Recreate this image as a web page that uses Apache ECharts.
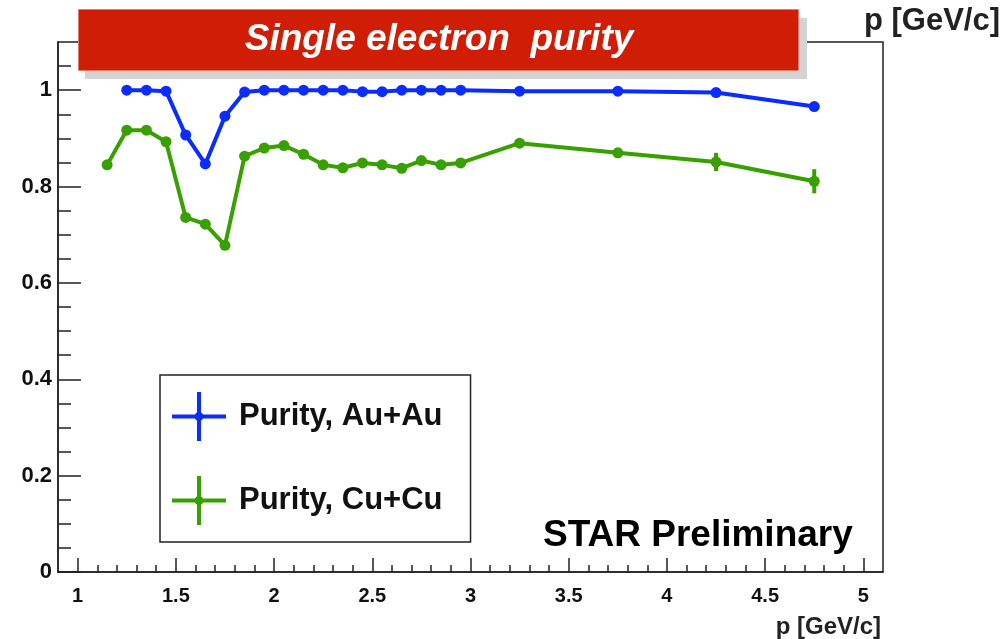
<!DOCTYPE html>
<html>
<head>
<meta charset="utf-8">
<script src="https://cdn.jsdelivr.net/npm/echarts@6/dist/echarts.min.js"></script>
<style>
html,body{margin:0;padding:0;background:#fff;}
#chart{width:1006px;height:639px;}
</style>
</head>
<body>
<div id="chart"></div>
<script>
// ---- data ----
const xAu = [1.25,1.35,1.45,1.55,1.65,1.75,1.85,1.95,2.05,2.15,2.25,2.35,2.45,2.55,2.65,2.75,2.85,2.95,3.25,3.75,4.25,4.75];
const yAu = [1.0,1.0,0.998,0.907,0.847,0.946,0.996,1.0,1.0,1.0,1.0,1.0,0.997,0.997,1.0,1.0,1.0,1.0,0.998,0.998,0.995,0.966];
const eAu = [0.003,0.003,0.003,0.004,0.005,0.004,0.003,0.003,0.003,0.003,0.003,0.003,0.003,0.003,0.003,0.003,0.003,0.003,0.003,0.003,0.004,0.006];

const xCu = [1.15,1.25,1.35,1.45,1.55,1.65,1.75,1.85,1.95,2.05,2.15,2.25,2.35,2.45,2.55,2.65,2.75,2.85,2.95,3.25,3.75,4.25,4.75];
const yCu = [0.845,0.917,0.917,0.893,0.736,0.722,0.678,0.863,0.880,0.885,0.867,0.845,0.839,0.849,0.845,0.838,0.854,0.845,0.849,0.890,0.870,0.851,0.811];
const eCu = [0.006,0.005,0.005,0.005,0.006,0.006,0.007,0.005,0.005,0.005,0.005,0.005,0.005,0.005,0.005,0.005,0.005,0.005,0.005,0.006,0.008,0.019,0.025];

const seriesNames = ['Purity, Au+Au', 'Purity, Cu+Cu'];
const xMajorTicks = [1,1.5,2,2.5,3,3.5,4,4.5,5];
const yMajorTicks = [0,0.2,0.4,0.6,0.8,1];
const xRange = [0.9, 5.1];
const yRange = [0, 1.1];

// minor tick positions (between majors)
const xMinorTicks = [];
for (let i = 11; i <= 49; i++) { if (i % 5 !== 0) xMinorTicks.push(i / 10); }
const yMinorTicks = [];
for (let i = 1; i <= 21; i++) { if (i % 4 !== 0) yMinorTicks.push(i * 0.05); }

const BLUE = '#0a2cff';
const GREEN = '#38a000';
const FONT = '"Liberation Sans", Arial, Helvetica, sans-serif';

function pts(xs, ys) { return xs.map((x, i) => [x, ys[i]]); }
function errs(xs, ys, es) { return xs.map((x, i) => [x, ys[i] - es[i], ys[i] + es[i]]); }

function errRender(color) {
  return function (params, api) {
    const x = api.value(0);
    const lo = api.coord([x, api.value(1)]);
    const hi = api.coord([x, api.value(2)]);
    return {
      type: 'line',
      shape: { x1: lo[0], y1: lo[1], x2: hi[0], y2: hi[1] },
      style: { stroke: color, lineWidth: 4 }
    };
  };
}

const crossIcon = 'path://M0 22.5H54V26.5H0Z M25 0H29V49H25Z M22.5 24.5a4.5 4.5 0 1 1 9 0a4.5 4.5 0 1 1 -9 0Z';

const chart = echarts.init(document.getElementById('chart'), null, { renderer: 'canvas' });

const axisLineStyle = { color: '#222', width: 1.5 };

const option = {
  animation: false,
  backgroundColor: '#fff',
  grid: { left: 58, right: 123, top: 42, bottom: 65, show: true, borderColor: '#222', borderWidth: 1.5, backgroundColor: 'transparent' },
  xAxis: [
    {
      type: 'value', min: xRange[0], max: xRange[1], position: 'bottom',
      axisLine: { show: true, onZero: false, lineStyle: axisLineStyle },
      axisTick: { show: true, inside: true, length: 14, customValues: xMajorTicks, lineStyle: { color: '#222', width: 1.5 } },
      axisLabel: { show: true, customValues: xMajorTicks, margin: 14, color: '#111', fontFamily: FONT, fontWeight: 'bold', fontSize: 20,
        formatter: v => String(v) },
      splitLine: { show: false },
      name: 'p [GeV/c]', nameLocation: 'end', nameGap: -2,
      nameTextStyle: { color: '#222', fontFamily: FONT, fontWeight: 'bold', fontSize: 24, align: 'right', verticalAlign: 'top', padding: [43, 0, 0, 0] }
    },
    {
      type: 'value', min: xRange[0], max: xRange[1], position: 'bottom',
      axisLine: { show: false, onZero: false },
      axisTick: { show: true, inside: true, length: 7, customValues: xMinorTicks, lineStyle: { color: '#222', width: 1.5 } },
      axisLabel: { show: false },
      splitLine: { show: false }
    }
  ],
  yAxis: [
    {
      type: 'value', min: yRange[0], max: yRange[1], position: 'left',
      axisLine: { show: true, onZero: false, lineStyle: axisLineStyle },
      axisTick: { show: true, inside: true, length: 23, customValues: yMajorTicks, lineStyle: { color: '#222', width: 1.5 } },
      axisLabel: { show: true, customValues: yMajorTicks, margin: 6, color: '#111', fontFamily: FONT, fontWeight: 'bold', fontSize: 22,
        formatter: v => String(v) },
      splitLine: { show: false }
    },
    {
      type: 'value', min: yRange[0], max: yRange[1], position: 'left',
      axisLine: { show: false, onZero: false },
      axisTick: { show: true, inside: true, length: 13, customValues: yMinorTicks, lineStyle: { color: '#222', width: 1.5 } },
      axisLabel: { show: false },
      splitLine: { show: false }
    }
  ],
  legend: {
    orient: 'vertical', left: 160, top: 375,
    data: [
      { name: seriesNames[0], icon: crossIcon, itemStyle: { color: BLUE } },
      { name: seriesNames[1], icon: crossIcon, itemStyle: { color: GREEN } }
    ],
    itemWidth: 54, itemHeight: 49, itemGap: 35,
    padding: [17, 28, 17, 12],
    borderColor: '#222', borderWidth: 1.5, backgroundColor: '#fff',
    selectedMode: false,
    textStyle: { color: '#111', fontFamily: FONT, fontWeight: 'bold', fontSize: 31, padding: [0, 0, 0, 8] }
  },
  series: [
    {
      name: seriesNames[1], type: 'line', data: pts(xCu, yCu),
      symbol: 'circle', symbolSize: 11, itemStyle: { color: GREEN },
      lineStyle: { color: GREEN, width: 4 }, z: 3
    },
    {
      name: seriesNames[1] + ' err', type: 'custom', data: errs(xCu, yCu, eCu),
      renderItem: errRender(GREEN), z: 3, encode: { x: 0, y: [1, 2] }
    },
    {
      name: seriesNames[0], type: 'line', data: pts(xAu, yAu),
      symbol: 'circle', symbolSize: 11, itemStyle: { color: BLUE },
      lineStyle: { color: BLUE, width: 4 }, z: 4
    },
    {
      name: seriesNames[0] + ' err', type: 'custom', data: errs(xAu, yAu, eAu),
      renderItem: errRender(BLUE), z: 4, encode: { x: 0, y: [1, 2] }
    }
  ],
  graphic: [
    { type: 'rect', left: 85, top: 18, shape: { width: 722, height: 61 }, style: { fill: '#d4d4d4' }, z: 100 },
    { type: 'rect', left: 78, top: 9, shape: { width: 720, height: 61 }, style: { fill: '#d01e06', stroke: '#e07a6a', lineWidth: 1 }, z: 101 },
    { type: 'text', x: 439, y: 40, style: { text: 'Single electron  purity', fill: '#fff', font: 'italic bold 37px ' + FONT, textAlign: 'center', textVerticalAlign: 'middle' }, z: 102 },
    { type: 'text', x: 1000, y: 21, style: { text: 'p [GeV/c]', fill: '#222', font: 'bold 31px ' + FONT, textAlign: 'right', textVerticalAlign: 'middle' }, z: 102 },
    { type: 'text', x: 543, y: 536, style: { text: 'STAR Preliminary', fill: '#000', font: 'bold 37px ' + FONT, textAlign: 'left', textVerticalAlign: 'middle' }, z: 102 }
  ]
};

chart.setOption(option);
</script>
</body>
</html>
